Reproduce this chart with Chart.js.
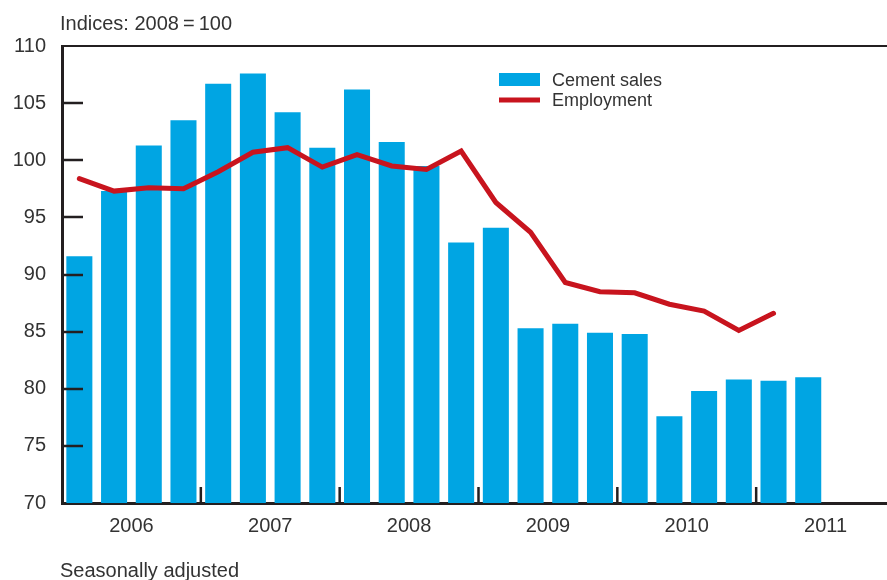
<!DOCTYPE html>
<html>
<head>
<meta charset="utf-8">
<script src="https://cdn.jsdelivr.net/npm/chart.js@4.4.0/dist/chart.umd.min.js"></script>
<style>
html,body{margin:0;padding:0;background:#fff;overflow:hidden;}
#wrap{width:887px;height:580px;position:relative;overflow:hidden;}
</style>
</head>
<body>
<div id="wrap"><canvas id="c" width="895" height="580"></canvas></div>
<script>
const years = ['2006','2007','2008','2009','2010','2011'];
const quarters = ['Q1','Q2','Q3','Q4'];
const categories = years.flatMap(y => quarters.map(q => y + ' ' + q));
const cementSales = [91.6,97.3,101.3,103.5,106.7,107.6,104.2,101.1,106.2,101.6,99.5,92.8,94.1,85.3,85.7,84.9,84.8,77.6,79.8,80.8,80.7,81.0,null,null];
const employment = [98.4,97.3,97.6,97.5,99.0,100.7,101.1,99.4,100.5,99.5,99.2,100.8,96.3,93.7,89.3,88.5,88.4,87.4,86.8,85.1,86.6,null,null,null];
const yTicks = [70,75,80,85,90,95,100,105,110];
const seriesNames = ['Cement sales','Employment'];
const titleText = 'Indices: 2008\u2009=\u2009100';
const noteText = 'Seasonally adjusted';

const BLUE = '#00A5E3';
const RED = '#C8141E';
const INK = '#231F20';
const TEXT = '#333333';
const FONT = '"Liberation Sans", Arial, sans-serif';

const deco = {
  id: 'deco',
  afterDatasetsDraw(chart) {
    const ctx = chart.ctx, a = chart.chartArea;
    const y = chart.scales.y, yr = chart.scales.yr;
    ctx.save();
    ctx.strokeStyle = INK;
    ctx.lineWidth = 2.2;
    ctx.beginPath(); ctx.moveTo(a.left, a.top); ctx.lineTo(a.right, a.top); ctx.stroke();
    ctx.lineWidth = 2.5;
    yTicks.forEach(v => {
      if (v === 70 || v === 110) return;
      const py = Math.round(y.getPixelForValue(v));
      ctx.beginPath(); ctx.moveTo(a.left, py); ctx.lineTo(a.left + 21, py); ctx.stroke();
    });
    for (let i = 1; i < years.length; i++) {
      const px = yr.getPixelForValue(i * 4 - 0.5);
      ctx.beginPath(); ctx.moveTo(px, a.bottom); ctx.lineTo(px, a.bottom - 16); ctx.stroke();
    }
    ctx.restore();
  },
  afterDraw(chart) {
    const ctx = chart.ctx;
    ctx.save();
    ctx.fillStyle = TEXT;
    ctx.font = '20px ' + FONT;
    ctx.textBaseline = 'alphabetic';
    ctx.textAlign = 'left';
    ctx.fillText(titleText, 60, 30);
    ctx.fillText(noteText, 60, 577);
    ctx.fillStyle = BLUE;
    ctx.fillRect(499, 73, 41, 13);
    ctx.strokeStyle = RED; ctx.lineWidth = 5;
    ctx.beginPath(); ctx.moveTo(499, 100); ctx.lineTo(540, 100); ctx.stroke();
    ctx.fillStyle = TEXT;
    ctx.font = '18px ' + FONT;
    ctx.fillText(seriesNames[0], 552, 86);
    ctx.fillText(seriesNames[1], 552, 106);
    ctx.restore();
  }
};

new Chart(document.getElementById('c'), {
  data: {
    labels: categories,
    datasets: [
      { type: 'line', label: seriesNames[1], data: employment, borderColor: RED, borderWidth: 5,
        pointRadius: 0, tension: 0, order: 0, spanGaps: false, borderJoinStyle: 'miter', borderCapStyle: 'round' },
      { type: 'bar', label: seriesNames[0], data: cementSales, backgroundColor: BLUE, borderWidth: 0,
        barPercentage: 0.75, categoryPercentage: 1, order: 1 }
    ]
  },
  options: {
    responsive: false,
    animation: false,
    layout: { padding: { top: 46, right: 0, left: 0, bottom: 0 } },
    plugins: { legend: { display: false }, tooltip: { enabled: false }, title: { display: false } },
    scales: {
      x: { type: 'category', display: false, offset: true },
      yr: {
        type: 'linear', position: 'bottom', min: -0.5, max: 23.5,
        afterBuildTicks(s) { s.ticks = years.map((_, i) => ({ value: i * 4 + 1.5 })); },
        afterFit(s) { s.height = 77; },
        grid: { display: false, drawTicks: false },
        border: { display: true, color: INK, width: 3 },
        ticks: {
          callback(v, i) { return years[i]; },
          color: TEXT, font: { family: FONT, size: 20 }, padding: 11, maxRotation: 0, autoSkip: false
        }
      },
      y: {
        min: 70, max: 110,
        afterBuildTicks(s) { s.ticks = yTicks.map(v => ({ value: v })); },
        afterFit(s) { s.width = 62; },
        grid: { display: false, drawTicks: false },
        border: { display: true, color: INK, width: 3 },
        ticks: { color: TEXT, font: { family: FONT, size: 20 }, padding: 16 }
      }
    }
  },
  plugins: [deco]
});
</script>
</body>
</html>
